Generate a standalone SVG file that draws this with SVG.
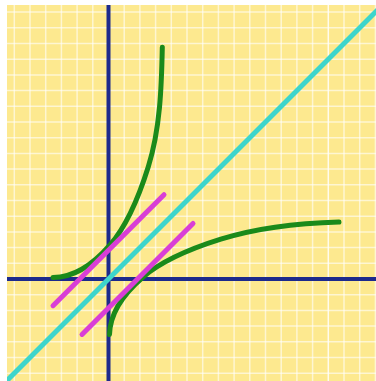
<svg xmlns="http://www.w3.org/2000/svg" width="376" height="381" viewBox="0 0 376 381">
  <style>
    .grid line { stroke: #ffffff; stroke-opacity: 0.6; stroke-width: 1.5; }
    .axis { stroke: #1c2a8c; stroke-width: 4; fill: none; }
    .curve { stroke: #1a8a1a; stroke-width: 5; fill: none; stroke-linecap: round; }
    .tangent { stroke: #d93ed6; stroke-width: 5; fill: none; stroke-linecap: round; }
    .diag { stroke: #3dd5cc; stroke-width: 5; fill: none; }
  </style>
  <defs>
    <clipPath id="area"><rect x="7" y="5" width="369" height="376"/></clipPath>
  </defs>
  <rect width="376" height="381" fill="#ffffff"/>
  <rect id="paper" x="7" y="5" width="369" height="376" fill="#fde98f"/>
  <g id="grid" class="grid" clip-path="url(#area)">
    <line x1="14.3" y1="5" x2="14.3" y2="381"/>
    <line x1="30" y1="5" x2="30" y2="381"/>
    <line x1="45.7" y1="5" x2="45.7" y2="381"/>
    <line x1="61.4" y1="5" x2="61.4" y2="381"/>
    <line x1="77.1" y1="5" x2="77.1" y2="381"/>
    <line x1="92.8" y1="5" x2="92.8" y2="381"/>
    <line x1="124.2" y1="5" x2="124.2" y2="381"/>
    <line x1="139.9" y1="5" x2="139.9" y2="381"/>
    <line x1="155.6" y1="5" x2="155.6" y2="381"/>
    <line x1="171.3" y1="5" x2="171.3" y2="381"/>
    <line x1="187" y1="5" x2="187" y2="381"/>
    <line x1="202.7" y1="5" x2="202.7" y2="381"/>
    <line x1="218.4" y1="5" x2="218.4" y2="381"/>
    <line x1="234.1" y1="5" x2="234.1" y2="381"/>
    <line x1="249.8" y1="5" x2="249.8" y2="381"/>
    <line x1="265.5" y1="5" x2="265.5" y2="381"/>
    <line x1="281.2" y1="5" x2="281.2" y2="381"/>
    <line x1="296.9" y1="5" x2="296.9" y2="381"/>
    <line x1="312.6" y1="5" x2="312.6" y2="381"/>
    <line x1="328.3" y1="5" x2="328.3" y2="381" style="stroke-opacity:0.85"/>
    <line x1="344" y1="5" x2="344" y2="381"/>
    <line x1="359.7" y1="5" x2="359.7" y2="381"/>
    <line x1="375.4" y1="5" x2="375.4" y2="381"/>
    <line x1="7" y1="12.1" x2="376" y2="12.1"/>
    <line x1="7" y1="27.8" x2="376" y2="27.8"/>
    <line x1="7" y1="43.5" x2="376" y2="43.5"/>
    <line x1="7" y1="59.2" x2="376" y2="59.2"/>
    <line x1="7" y1="74.9" x2="376" y2="74.9"/>
    <line x1="7" y1="90.6" x2="376" y2="90.6"/>
    <line x1="7" y1="106.3" x2="376" y2="106.3"/>
    <line x1="7" y1="122" x2="376" y2="122"/>
    <line x1="7" y1="137.7" x2="376" y2="137.7"/>
    <line x1="7" y1="153.4" x2="376" y2="153.4"/>
    <line x1="7" y1="169.1" x2="376" y2="169.1"/>
    <line x1="7" y1="184.8" x2="376" y2="184.8"/>
    <line x1="7" y1="200.5" x2="376" y2="200.5"/>
    <line x1="7" y1="216.2" x2="376" y2="216.2"/>
    <line x1="7" y1="231.9" x2="376" y2="231.9"/>
    <line x1="7" y1="247.6" x2="376" y2="247.6"/>
    <line x1="7" y1="263.3" x2="376" y2="263.3"/>
    <line x1="7" y1="294.7" x2="376" y2="294.7"/>
    <line x1="7" y1="310.4" x2="376" y2="310.4"/>
    <line x1="7" y1="326.1" x2="376" y2="326.1"/>
    <line x1="7" y1="341.8" x2="376" y2="341.8"/>
    <line x1="7" y1="357.5" x2="376" y2="357.5"/>
    <line x1="7" y1="373.2" x2="376" y2="373.2"/>
  </g>
  <g id="axes">
    <line id="y-axis" class="axis" x1="108.5" y1="5" x2="108.5" y2="381"/>
    <line id="x-axis" class="axis" x1="7" y1="279" x2="376" y2="279"/>
  </g>
  <g id="curves">
    <path id="exp-curve" class="curve" d="M53,277.5 C72,277.5 91,266.9 110,245 C128,224.3 139.3,195.5 148.3,166.7 C160.2,128.5 161.5,87.3 162.3,47.3"/>
    <path id="log-curve" class="curve" d="M109.5,334.5 C110,315.5 120.6,296.5 142.5,277.5 C163.2,259.5 192,248.2 220.8,239.2 C259,227.3 300,223 339,222"/>
  </g>
  <g id="lines" clip-path="url(#area)">
    <line id="diagonal" class="diag" x1="0" y1="387.5" x2="387.5" y2="0"/>
    <line id="tangent-exp" class="tangent" x1="53" y1="305.7" x2="164" y2="194.7"/>
    <line id="tangent-log" class="tangent" x1="82" y1="334.4" x2="193" y2="223.4"/>
  </g>
</svg>
